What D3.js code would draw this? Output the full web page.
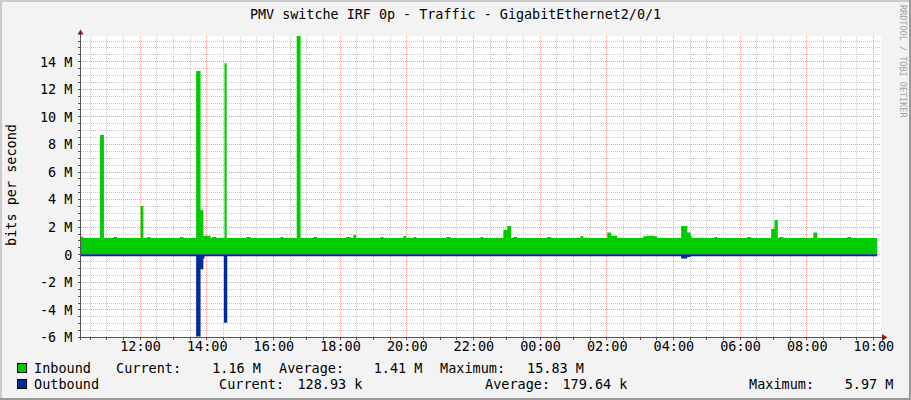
<!DOCTYPE html>
<html>
<head>
<meta charset="utf-8">
<script src="https://cdn.jsdelivr.net/npm/d3@7"></script>
<style>
body { margin: 0; background: #f3f3f3; }
svg text { font-family: "DejaVu Sans Mono", monospace; }
</style>
</head>
<body>
<div id="chart"></div>
<script>
// samples: [time, Mbit/s], each value holds until the next time
var inbound = [
  ["10:13", 1.27], ["10:18", 1.18], ["10:48", 8.65], ["10:55", 1.18], ["11:12", 1.26], ["11:19", 1.18],
  ["12:01", 3.5], ["12:06", 1.18], ["12:13", 1.26], ["12:19", 1.18], ["13:12", 1.26], ["13:18", 1.18],
  ["13:41", 13.3], ["13:49", 3.2], ["13:54", 1.35], ["14:07", 1.18], ["14:10", 1.26], ["14:17", 1.18],
  ["14:32", 13.85], ["14:36", 1.18], ["15:11", 1.26], ["15:19", 1.18], ["16:13", 1.26], ["16:18", 1.18],
  ["16:42", 15.83], ["16:49", 1.18], ["17:12", 1.26], ["17:19", 1.18], ["18:11", 1.26], ["18:20", 1.18],
  ["18:24", 1.4], ["18:29", 1.18], ["19:13", 1.26], ["19:18", 1.18], ["19:54", 1.33], ["19:59", 1.18],
  ["20:12", 1.26], ["20:17", 1.18], ["21:11", 1.26], ["21:19", 1.18], ["22:13", 1.26], ["22:18", 1.18],
  ["22:54", 1.76], ["23:01", 2.05], ["23:08", 1.18], ["23:12", 1.26], ["23:19", 1.18], ["00:13", 1.26],
  ["00:20", 1.18], ["01:13", 1.33], ["01:18", 1.18], ["02:01", 1.57], ["02:08", 1.34], ["02:19", 1.18],
  ["03:06", 1.3], ["03:13", 1.34], ["03:26", 1.3], ["03:31", 1.18], ["04:14", 2.05], ["04:25", 1.57],
  ["04:31", 1.35], ["04:33", 1.18], ["05:14", 1.26], ["05:19", 1.18], ["06:13", 1.26], ["06:20", 1.18],
  ["06:56", 1.83], ["07:02", 2.49], ["07:08", 1.18], ["07:11", 1.26], ["07:18", 1.18], ["08:12", 1.57],
  ["08:19", 1.18], ["09:13", 1.26], ["09:20", 1.18], ["10:07", 1.16]
];
var outbound = [
  ["10:13", 0.14], ["13:41", 5.97], ["13:49", 1.09], ["13:54", 0.3], ["13:56", 0.14],
  ["14:31", 4.96], ["14:37", 0.14], ["04:14", 0.3], ["04:25", 0.2], ["04:31", 0.14], ["10:07", 0.13]
];

var timeTicks = ["12:00", "14:00", "16:00", "18:00", "20:00", "22:00", "00:00", "02:00", "04:00", "06:00", "08:00", "10:00"];
var yTicks = [-6, -4, -2, 0, 2, 4, 6, 8, 10, 12, 14];
var yTickLabels = ["-6 M", "-4 M", "-2 M", "0", "2 M", "4 M", "6 M", "8 M", "10 M", "12 M", "14 M"];

var seriesNames = ["Inbound", "Outbound"];
var seriesColors = ["#00cc00", "#002a97"];
var inboundStats = ["1.16 M", "1.41 M", "15.83 M"];
var outboundStats = ["128.93 k", "179.64 k", "5.97 M"];

var title = "PMV switche IRF 0p - Traffic - GigabitEthernet2/0/1";

var W = 911, H = 400;
var pLeft = 81, pRight = 881, pTop = 36, pBottom = 337;
var fs = "13.5px";

var day0 = new Date(2000, 0, 1).getTime();
var startMin = 613.75; // graph starts 10:13:45
function parseT(s) {
    var p = s.split(":");
    var m = (+p[0]) * 60 + (+p[1]);
    if (m < 612) m += 1440; // before 10:12 means the next day
    return new Date(day0 + m * 60000);
}
var tStart = new Date(day0 + startMin * 60000),
    tEnd = new Date(day0 + (startMin + 1440) * 60000);

var xScale = d3.scaleTime().domain([tStart, tEnd]).range([pLeft, pRight]);
var yScale = d3.scaleLinear().domain([-6, 15.83]).range([pBottom, pTop]);
function px(v) { return Math.round(v) + 0.5; }
function pxf(v) { return Math.floor(v) + 0.5; }

var svg = d3.select("#chart").append("svg")
    .attr("width", W)
    .attr("height", H);

// background + frame
svg.append("rect").attr("width", W).attr("height", H).attr("fill", "#f3f3f3");
svg.append("rect").attr("x", 0).attr("y", 0).attr("width", W).attr("height", 2).attr("fill", "#cbcbcb");
svg.append("rect").attr("x", 0).attr("y", 0).attr("width", 2).attr("height", H).attr("fill", "#cbcbcb");
svg.append("rect").attr("x", 0).attr("y", H - 2).attr("width", W).attr("height", 2).attr("fill", "#999999");
svg.append("rect").attr("x", W - 2).attr("y", 0).attr("width", 2).attr("height", H).attr("fill", "#999999");

svg.append("rect")
    .attr("x", pLeft).attr("y", pTop)
    .attr("width", pRight - pLeft).attr("height", pBottom - pTop)
    .attr("fill", "#ffffff");

svg.append("clipPath").attr("id", "plotclip")
  .append("rect")
    .attr("x", pLeft).attr("y", pTop)
    .attr("width", pRight - pLeft).attr("height", pBottom - pTop);

// grid: minor every 0.5 M / 30 min, major on the labelled values
var grid = svg.append("g").attr("class", "grid");
var minorY = d3.range(-6, 15.6, 0.5).filter(function(v) { return Math.abs(v % 2) > 0.01; });
var allX = d3.timeMinute.every(30).range(tStart, tEnd);
var majorX = timeTicks.map(parseT);
var majorPos = majorX.map(function(d) { return pxf(xScale(d)); });
var minorX = allX.filter(function(d) { return majorPos.indexOf(pxf(xScale(d))) < 0; });

function hLines(vals, cls, col) {
    grid.selectAll("line." + cls).data(vals).enter().append("line")
        .attr("class", cls)
        .attr("x1", pLeft).attr("x2", pRight)
        .attr("y1", function(d) { return px(yScale(d)); })
        .attr("y2", function(d) { return px(yScale(d)); })
        .attr("stroke", col).attr("stroke-dasharray", "1,1");
}
function vLines(vals, cls, col) {
    grid.selectAll("line." + cls).data(vals).enter().append("line")
        .attr("class", cls)
        .attr("y1", pTop).attr("y2", pBottom)
        .attr("x1", function(d) { return pxf(xScale(d)); })
        .attr("x2", function(d) { return pxf(xScale(d)); })
        .attr("stroke", col).attr("stroke-dasharray", "1,1");
}
hLines(minorY, "hminor", "#c8c8c8");
vLines(minorX, "vminor", "#c8c8c8");
hLines(yTicks, "hmajor", "#f29a9a");
vLines(majorX, "vmajor", "#f29a9a");

// areas
var inArea = d3.area()
    .curve(d3.curveStepAfter)
    .x(function(d) { return xScale(parseT(d[0])); })
    .y0(yScale(0))
    .y1(function(d) { return yScale(d[1]); });
var outArea = d3.area()
    .curve(d3.curveStepAfter)
    .x(function(d) { return xScale(parseT(d[0])); })
    .y0(yScale(0))
    .y1(function(d) { return yScale(-d[1]); });

var plot = svg.append("g").attr("clip-path", "url(#plotclip)");
plot.append("path").datum(inbound).attr("d", inArea).attr("fill", seriesColors[0]);
plot.append("path").datum(outbound).attr("d", outArea).attr("fill", seriesColors[1]);

// axes lines, ticks, arrows
var axisCol = "#555555", arrowCol = "#8b1a1a";
svg.append("line").attr("x1", 80.5).attr("x2", 80.5).attr("y1", pBottom + 3).attr("y2", pTop - 3)
    .attr("stroke", axisCol);
svg.append("line").attr("x1", pLeft - 3).attr("x2", pRight + 3).attr("y1", pBottom + 0.5).attr("y2", pBottom + 0.5)
    .attr("stroke", axisCol);
svg.selectAll("line.ytick").data(minorY.concat(yTicks)).enter().append("line")
    .attr("class", "ytick")
    .attr("x1", 78).attr("x2", 80)
    .attr("y1", function(d) { return px(yScale(d)); })
    .attr("y2", function(d) { return px(yScale(d)); })
    .attr("stroke", axisCol);
svg.selectAll("line.xtick").data(allX).enter().append("line")
    .attr("class", "xtick")
    .attr("y1", pBottom + 1).attr("y2", pBottom + 3)
    .attr("x1", function(d) { return pxf(xScale(d)); })
    .attr("x2", function(d) { return pxf(xScale(d)); })
    .attr("stroke", axisCol);
svg.append("path").attr("d", "M77.5,34.5 L83.5,34.5 L80.5,29.5 Z").attr("fill", arrowCol);
svg.append("path").attr("d", "M882,334 L882,341 L887.5,337.5 Z").attr("fill", arrowCol);

// tick labels
var yAxis = d3.axisLeft(yScale)
    .tickValues(yTicks)
    .tickSize(0)
    .tickPadding(8.5)
    .tickFormat(function(d, i) { return yTickLabels[i]; });
var gy = svg.append("g").attr("transform", "translate(" + pLeft + ",0)").call(yAxis);
gy.select(".domain").remove();
gy.selectAll("text").attr("font-size", fs).attr("font-family", "DejaVu Sans Mono").attr("fill", "#000")
    .attr("dy", "0.36em");

var xAxis = d3.axisBottom(xScale)
    .tickValues(majorX)
    .tickSize(0)
    .tickFormat(function(d, i) { return timeTicks[i]; });
var gx = svg.append("g").attr("transform", "translate(0," + pBottom + ")").call(xAxis);
gx.select(".domain").remove();
gx.selectAll("text").attr("font-size", fs).attr("font-family", "DejaVu Sans Mono").attr("fill", "#000")
    .attr("y", 14).attr("dy", 0);

// title and labels
svg.append("text").attr("x", 455.5).attr("y", 18.5).attr("text-anchor", "middle")
    .attr("font-size", "13.4px").attr("fill", "#000").text(title);
svg.append("text").attr("transform", "translate(15.5,185) rotate(-90)").attr("text-anchor", "middle")
    .attr("font-size", fs).attr("fill", "#000").text("bits per second");
svg.append("text").attr("transform", "translate(899.5,5) rotate(90)")
    .attr("font-size", "8.5px").attr("fill", "#a0a0a0").text("RRDTOOL / TOBI OETIKER");

// legend
var rows = [
    {y: 373, labels: [[116, "Current:"], [279, "Average:"], [440, "Maximum:"]], vals: [[261, inboundStats[0]], [422.5, inboundStats[1]], [584, inboundStats[2]]]},
    {y: 389, labels: [[219, "Current:"], [485, "Average:"], [749, "Maximum:"]], vals: [[362.5, outboundStats[0]], [627.5, outboundStats[1]], [893.5, outboundStats[2]]]}
];
rows.forEach(function(r, i) {
    svg.append("rect").attr("x", 17.5).attr("y", r.y - 9.5).attr("width", 9).attr("height", 9)
        .attr("fill", seriesColors[i]).attr("stroke", "#000");
    svg.append("text").attr("x", 34).attr("y", r.y).attr("font-size", fs).attr("fill", "#000").text(seriesNames[i]);
    r.labels.forEach(function(l) {
        svg.append("text").attr("x", l[0]).attr("y", r.y).attr("font-size", fs).attr("fill", "#000").text(l[1]);
    });
    r.vals.forEach(function(v) {
        svg.append("text").attr("x", v[0]).attr("y", r.y).attr("text-anchor", "end")
            .attr("font-size", fs).attr("fill", "#000").text(v[1]);
    });
});
</script>
</body>
</html>
